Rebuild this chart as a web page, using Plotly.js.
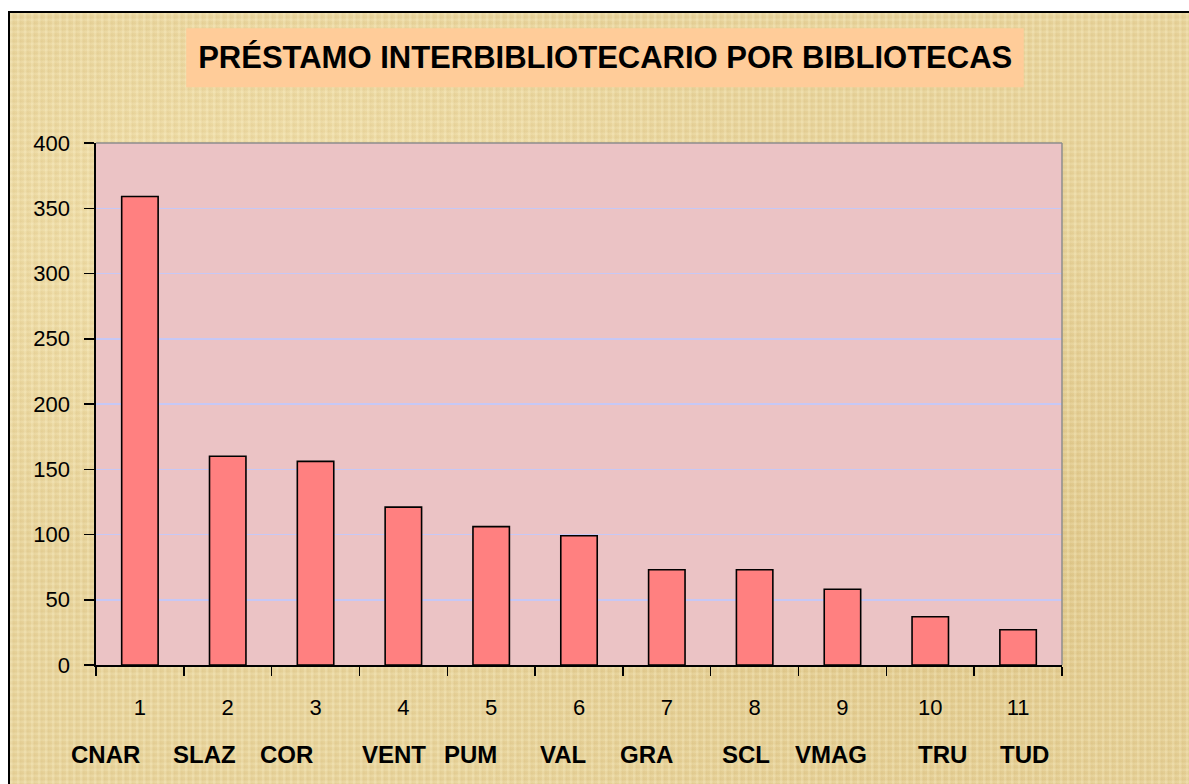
<!DOCTYPE html>
<html>
<head>
<meta charset="utf-8">
<script src="https://cdn.plot.ly/plotly-3.0.1.min.js"></script>
<style>
  html, body { margin: 0; padding: 0; background: #ffffff; overflow: hidden; }
  #frame {
    position: absolute; left: 8px; top: 11px; width: 1200px; height: 800px;
    border-left: 2px solid #000; border-top: 2px solid #000;
    background-color: #E8D49C;
    background-image:
      repeating-linear-gradient(90deg, rgba(255,248,215,0.18) 0px, rgba(255,248,215,0.18) 2px, rgba(170,130,50,0.06) 3px, rgba(255,248,215,0) 7px),
      repeating-linear-gradient(0deg, rgba(255,248,215,0.14) 0px, rgba(255,248,215,0.14) 2px, rgba(170,130,50,0.06) 3px, rgba(255,248,215,0) 6px),
      radial-gradient(ellipse at 20% 30%, rgba(250,235,185,0.5), rgba(250,235,185,0) 40%),
      radial-gradient(ellipse at 80% 70%, rgba(210,180,110,0.35), rgba(210,180,110,0) 45%);
  }
  #chart { position: absolute; left: 0; top: 0; width: 1189px; height: 784px; }
</style>
</head>
<body>
<div id="frame"></div>
<div id="chart"></div>
<script>
// ---- data ----
const categories = ['1','2','3','4','5','6','7','8','9','10','11'];
const libraries  = ['CNAR','SLAZ','COR','VENT','PUM','VAL','GRA','SCL','VMAG','TRU','TUD'];
const loans      = [359, 160, 156, 121, 106, 99, 73, 73, 58, 37, 27];
const yTicks     = [0, 50, 100, 150, 200, 250, 300, 350, 400];
const chartTitle = 'PRÉSTAMO INTERBIBLIOTECARIO POR BIBLIOTECAS';

// ---- style (label offsets in px, not data) ----
const nameShift = [-34, -23, -29, -9, -21, -16, -20, -9, -11, 12, 6];
const FONT = 'Arial, "Liberation Sans", sans-serif';

const trace = {
  type: 'bar',
  x: categories,
  y: loans,
  marker: { color: '#FF8080', line: { color: '#000000', width: 1.6 } },
  hoverinfo: 'x+y'
};

// category axis: annotation x given as the category index
const annotations = libraries.map((name, i) => ({
  xref: 'x', yref: 'paper',
  x: i, y: -0.172,
  xshift: nameShift[i],
  text: '<b>' + name + '</b>',
  showarrow: false,
  xanchor: 'center', yanchor: 'middle',
  font: { family: FONT, size: 24, color: '#000000' }
}));

const layout = {
  width: 1189, height: 784,
  margin: { l: 96, r: 127, t: 143, b: 119, pad: 0 },
  paper_bgcolor: 'rgba(0,0,0,0)',
  plot_bgcolor: '#EBC3C5',
  showlegend: false,
  bargap: 0.585,
  title: {
    text: '<b>' + chartTitle + '</b>',
    font: { family: FONT, size: 31, color: '#000000' },
    x: 0.509, xanchor: 'center', xref: 'container',
    y: 0.927, yanchor: 'middle', yref: 'container'
  },
  xaxis: {
    type: 'category',
    categoryorder: 'array',
    categoryarray: categories,
    range: [-0.5, categories.length - 0.5],
    tickson: 'boundaries',
    ticks: 'outside', ticklen: 9, tickwidth: 1.5, tickcolor: '#000000',
    showline: true, linecolor: '#000000', linewidth: 1.6,
    showgrid: false, zeroline: false,
    ticklabelstandoff: 22,
    tickfont: { family: FONT, size: 22, color: '#000000' },
    fixedrange: true
  },
  yaxis: {
    range: [0, 400],
    tickvals: yTicks,
    ticks: 'outside', ticklen: 10, tickwidth: 1.5, tickcolor: '#000000',
    showline: true, linecolor: '#000000', linewidth: 1.6,
    showgrid: true, gridcolor: '#C6C8F6', gridwidth: 1.5,
    zeroline: false,
    ticklabelstandoff: 10,
    tickfont: { family: FONT, size: 22, color: '#000000' },
    fixedrange: true
  },
  shapes: [
    { type: 'rect', xref: 'paper', yref: 'paper', x0: 0.0934, x1: 0.9604, y0: 1.1067, y1: 1.2196,
      fillcolor: '#FFCC99', line: { width: 0 }, layer: 'below' },
    { type: 'line', xref: 'paper', yref: 'paper', x0: 0, x1: 1, y0: 1, y1: 1,
      line: { color: '#8C8C8C', width: 1.5 }, layer: 'above' },
    { type: 'line', xref: 'paper', yref: 'paper', x0: 1, x1: 1, y0: 0, y1: 1,
      line: { color: '#8C8C8C', width: 1.5 }, layer: 'above' }
  ],
  annotations: annotations
};

Plotly.newPlot('chart', [trace], layout, { displayModeBar: false, staticPlot: true });
</script>
</body>
</html>
